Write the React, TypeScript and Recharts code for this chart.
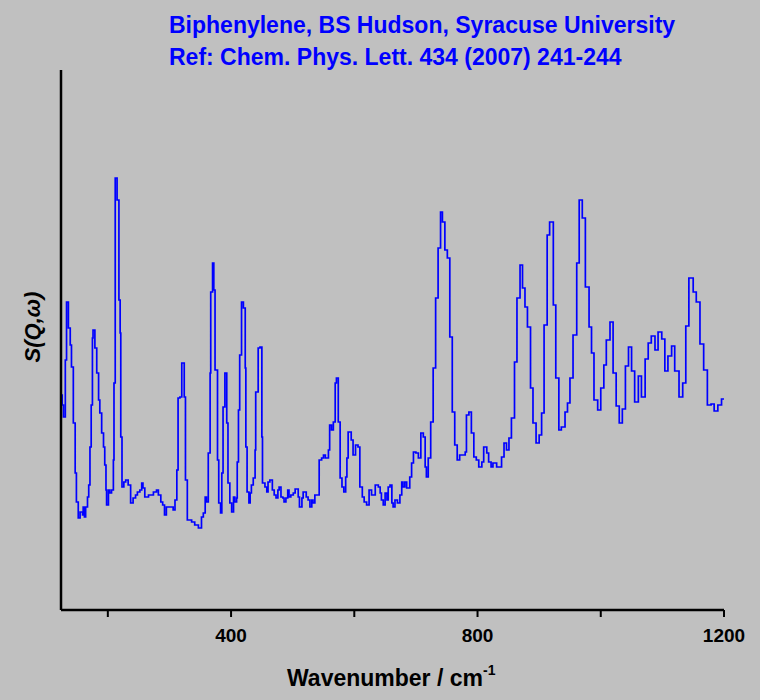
import { LineChart, Line, XAxis, YAxis } from 'recharts';

// INS spectrum of biphenylene (step histogram)
const wavenumber = [
  124, 126, 128, 131, 133, 136, 139, 141, 144, 147, 149, 152, 155, 159, 160, 162, 164, 167, 169, 171,
  173, 175, 176, 179, 182, 185, 187, 190, 193, 195, 197, 198, 201, 203, 206, 209, 210, 212, 215, 218,
  220, 221, 223, 226, 229, 233, 237, 241, 245, 248, 252, 255, 257, 260, 266, 274, 279, 282, 286, 289,
  292, 295, 302, 306, 309, 312, 314, 317, 320, 324, 326, 329, 336, 341, 347, 352, 355, 358, 360, 363,
  366, 367, 370, 372, 374, 378, 380, 383, 385, 387, 390, 393, 395, 398, 401, 404, 406, 409, 410, 412,
  414, 417, 420, 423, 424, 426, 429, 431, 433, 436, 439, 440, 444, 447, 450, 451, 455, 458, 460, 463,
  467, 470, 473, 476, 478, 481, 484, 486, 489, 492, 494, 497, 501, 504, 509, 511, 515, 517, 522, 525,
  528, 531, 533, 536, 540, 543, 547, 550, 553, 558, 560, 563, 566, 569, 571, 574, 577, 580, 583, 586,
  588, 590, 595, 598, 602, 606, 609, 613, 616, 620, 624, 628, 634, 639, 642, 644, 647, 650, 653, 655,
  658, 661, 663, 666, 670, 674, 677, 679, 682, 685, 690, 693, 696, 700, 704, 708, 712, 715, 717, 720,
  724, 728, 732, 736, 740, 743, 747, 751, 755, 759, 763, 767, 771, 776, 780, 782, 786, 790, 794, 798,
  802, 807, 810, 815, 818, 822, 825, 831, 835, 839, 843, 847, 851, 855, 860, 864, 869, 873, 877, 881,
  886, 890, 895, 900, 904, 908, 913, 917, 923, 927, 932, 936, 942, 946, 950, 955, 961, 965, 970, 975,
  981, 985, 989, 995, 1000, 1005, 1009, 1015, 1020, 1025, 1030, 1035, 1040, 1045, 1050, 1055, 1061, 1066, 1072, 1077,
  1082, 1088, 1093, 1099, 1104, 1109, 1115, 1120, 1127, 1133, 1138, 1143, 1150, 1155, 1161, 1167, 1173, 1179, 1184, 1190,
  1196, 1200,
];

const intensity = [
  215, 205, 193, 250, 308, 282, 265, 243, 187, 137, 108, 92, 98, 95, 103, 93, 103, 113, 125, 163,
  205, 272, 280, 262, 237, 210, 197, 177, 163, 145, 120, 105, 120, 117, 120, 150, 227, 432, 410, 310,
  277, 173, 123, 128, 130, 125, 107, 112, 115, 118, 120, 127, 122, 113, 115, 118, 120, 115, 108, 105,
  95, 103, 103, 100, 110, 140, 212, 213, 247, 213, 130, 90, 88, 85, 82, 93, 97, 113, 108, 157,
  237, 318, 347, 320, 240, 150, 107, 97, 137, 203, 237, 187, 127, 107, 98, 113, 108, 112, 148, 200,
  255, 308, 302, 242, 163, 118, 107, 117, 125, 132, 160, 218, 262, 263, 173, 127, 123, 118, 128, 130,
  120, 115, 112, 120, 123, 113, 112, 108, 112, 120, 113, 115, 117, 121, 113, 103, 112, 118, 113, 110,
  103, 110, 107, 115, 115, 150, 152, 155, 152, 160, 185, 180, 188, 227, 232, 188, 132, 123, 118, 133,
  152, 178, 170, 155, 165, 163, 123, 113, 108, 105, 120, 115, 125, 123, 117, 110, 105, 117, 110, 123,
  125, 107, 103, 110, 107, 115, 128, 123, 128, 122, 133, 147, 158, 157, 152, 177, 173, 143, 133, 152,
  188, 242, 312, 362, 398, 388, 360, 352, 273, 198, 165, 150, 155, 155, 158, 195, 198, 177, 153, 150,
  143, 148, 163, 157, 148, 143, 147, 143, 143, 153, 167, 160, 172, 192, 248, 312, 345, 322, 303, 283,
  222, 187, 167, 175, 197, 285, 375, 388, 305, 232, 180, 183, 198, 207, 232, 275, 347, 410, 392, 323,
  283, 257, 210, 200, 222, 245, 270, 288, 237, 204, 187, 201, 244, 263, 239, 208, 234, 213, 251, 267,
  274, 260, 278, 271, 239, 254, 264, 239, 213, 227, 284, 332, 318, 308, 266, 240, 205, 206, 199, 205,
  211, 211,
];

const xTicks = [200, 400, 600, 800, 1000, 1200];
const xTickLabels = ['', '400', '', '800', '', '1200'];

const data = wavenumber.map((w, i) => ({ w, s: intensity[i] }));

const font = '"Liberation Sans", Arial, sans-serif';

export default function App() {
  return (
    <div style={wrapStyles}>
      <LineChart width={760} height={700} data={data} margin={{ top: 70, right: 36, bottom: 0, left: 51 }}>
        <XAxis
          dataKey="w"
          type="number"
          domain={[124, 1200]}
          ticks={xTicks}
          tickFormatter={(v) => xTickLabels[xTicks.indexOf(v)]}
          allowDataOverflow
          height={90}
          tickSize={7}
          tickMargin={12}
          axisLine={{ stroke: '#000', strokeWidth: 2.5 }}
          tickLine={{ stroke: '#000', strokeWidth: 2 }}
          tick={{ fill: '#000', fontSize: 19, fontWeight: 'bold', fontFamily: font }}
        />
        <YAxis
          type="number"
          domain={[0, 540]}
          width={10}
          tick={false}
          tickLine={false}
          axisLine={{ stroke: '#000', strokeWidth: 2.5 }}
        />
        <Line
          type="stepAfter"
          dataKey="s"
          stroke="#0000ff"
          strokeWidth={1.7}
          dot={false}
          isAnimationActive={false}
        />
      </LineChart>
      <svg width={760} height={700} style={{ position: 'absolute', left: 0, top: 0, pointerEvents: 'none' }}>
        <g fontFamily={font} fontWeight="bold" fill="#0000ff" fontSize={23}>
          <text x={169} y={33}>Biphenylene, BS Hudson, Syracuse University</text>
          <text x={169} y={65}>Ref: Chem. Phys. Lett. 434 (2007) 241-244</text>
        </g>
        <text x={287} y={686} fontFamily={font} fontWeight="bold" fontSize={23} fill="#000">
          Wavenumber / cm<tspan fontSize={14} dy={-11}>-1</tspan>
        </text>
        <text
          x={40}
          y={327}
          transform="rotate(-90, 40, 327)"
          textAnchor="middle"
          fontFamily={font}
          fontWeight="bold"
          fontStyle="italic"
          fontSize={22}
          fill="#000"
        >
          S(Q,ω)
        </text>
      </svg>
    </div>
  );
}

const wrapStyles: React.CSSProperties = {
  position: 'absolute',
  left: 0,
  top: 0,
  width: 760,
  height: 700,
  background: '#c0c0c0',
};
